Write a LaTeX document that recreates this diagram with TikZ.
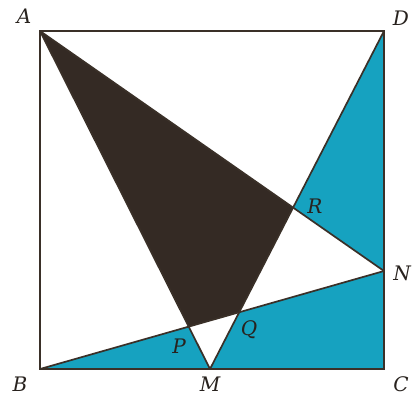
\documentclass[tikz,border=0pt]{standalone}
\usepackage{fontspec}
\setmainfont{DejaVu Serif}
\definecolor{teal1}{RGB}{22,162,192}
\definecolor{darkfill}{RGB}{52,42,36}
\definecolor{lineclr}{RGB}{58,48,40}
\definecolor{txtclr}{RGB}{40,34,30}
\begin{document}
\begin{tikzpicture}[x=1pt,y=-1pt,
  lbl/.style={font=\fontsize{20}{22}\selectfont\itshape, text=txtclr, inner sep=0pt},
  edge/.style={draw=lineclr, line width=1.7pt, line join=miter}]
\useasboundingbox (0,0) rectangle (414,396);
\coordinate (A) at (40,31);
\coordinate (D) at (384,31);
\coordinate (B) at (40,369);
\coordinate (C) at (384,369);
\coordinate (M) at (210,369);
\coordinate (N) at (384,271);
\coordinate (P) at (intersection of A--M and B--N);
\coordinate (Q) at (intersection of D--M and B--N);
\coordinate (R) at (intersection of A--N and D--M);
% fills
\fill[teal1] (B) -- (P) -- (M) -- cycle;
\fill[teal1] (Q) -- (M) -- (C) -- (N) -- cycle;
\fill[teal1] (D) -- (R) -- (N) -- cycle;
\fill[darkfill] (A) -- (P) -- (Q) -- (R) -- cycle;
% lines
\draw[edge] (A) -- (D) -- (C) -- (B) -- cycle;
\draw[edge] (A) -- (M);
\draw[edge] (A) -- (N);
\draw[edge] (D) -- (M);
\draw[edge] (B) -- (N);
% labels
\node[lbl] (lA) at (24,16) {A};
\node[lbl] (lD) at (401,18) {D};
\node[lbl] (lB) at (20,384) {B};
\node[lbl] (lC) at (401,384) {C};
\node[lbl] (lM) at (210,384) {M};
\node[lbl] (lN) at (402,273) {N};
\node[lbl] (lP) at (179,346) {P};
\node[lbl] (lQ) at (249,330) {Q};
\node[lbl] (lR) at (315,206) {R};
\end{tikzpicture}
\end{document}
